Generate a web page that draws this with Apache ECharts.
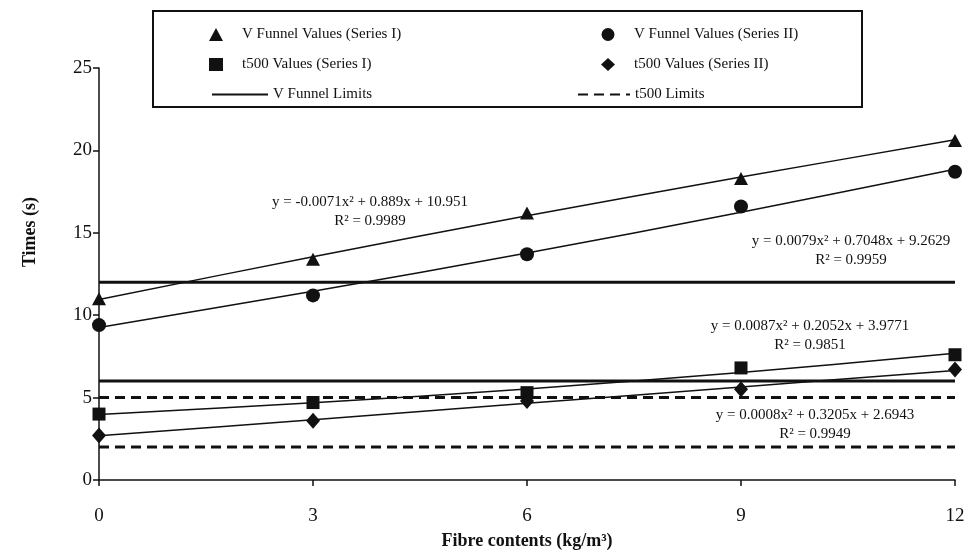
<!DOCTYPE html>
<html>
<head>
<meta charset="utf-8">
<script src="https://cdn.jsdelivr.net/npm/echarts@6/dist/echarts.min.js"></script>
<style>
  html, body { margin: 0; padding: 0; background: #fff; }
  #chart { width: 973px; height: 550px; }
</style>
</head>
<body>
<div id="chart"></div>
<script>
// fibre contents (kg/m3)
var fibre = [0, 3, 6, 9, 12];
// measured times (s)
var vfSeries1 = [11.0, 13.4, 16.2, 18.3, 20.6];
var vfSeries2 = [9.4, 11.2, 13.7, 16.6, 18.7];
var t5Series1 = [4.0, 4.7, 5.3, 6.8, 7.6];
var t5Series2 = [2.7, 3.6, 4.8, 5.5, 6.7];
// trend lines
var vfTrend1 = [10.95, 13.55, 16.03, 18.38, 20.64];
var vfTrend2 = [9.26, 11.45, 13.77, 16.25, 18.86];
var t5Trend1 = [3.98, 4.69, 5.52, 6.52, 7.69];
var t5Trend2 = [2.69, 3.66, 4.65, 5.64, 6.65];
// limits
var vfLimits = [12, 6];
var t5Limits = [5, 2];
// equations
var equations = [
  ["y = -0.0071x² + 0.889x + 10.951", "R² = 0.9989"],
  ["y = 0.0079x² + 0.7048x + 9.2629", "R² = 0.9959"],
  ["y = 0.0087x² + 0.2052x + 3.9771", "R² = 0.9851"],
  ["y = 0.0008x² + 0.3205x + 2.6943", "R² = 0.9949"]
];

var font = "Liberation Serif";
var ink = "#111";

function pairs(ys) {
  return fibre.map(function (x, i) { return [x, ys[i]]; });
}

var myChart = echarts.init(document.getElementById("chart"));

var series = [];
function scatter(name, ys, symbol, size) {
  series.push({
    name: name,
    type: "scatter",
    data: pairs(ys),
    symbol: symbol,
    symbolSize: size,
    itemStyle: { color: ink, opacity: 1 },
    z: 5
  });
}
function trend(ys) {
  series.push({
    name: "trend",
    type: "line",
    data: pairs(ys),
    smooth: 0.3,
    symbol: "none",
    color: ink,
    lineStyle: { color: ink, width: 1.5 },
    z: 3
  });
}
scatter("V Funnel Values (Series I)", vfSeries1, "triangle", [14, 13]);
scatter("V Funnel Values (Series II)", vfSeries2, "circle", 14);
scatter("t500 Values (Series I)", t5Series1, "rect", 13);
scatter("t500 Values (Series II)", t5Series2, "diamond", [14, 16]);
trend(vfTrend1);
trend(vfTrend2);
trend(t5Trend1);
trend(t5Trend2);

vfLimits.forEach(function (v) {
  series.push({
    name: "V Funnel Limits",
    type: "line",
    data: [[fibre[0], v], [fibre[fibre.length - 1], v]],
    symbol: "none",
    color: ink,
    lineStyle: { color: ink, width: 3 },
    z: 2
  });
});
t5Limits.forEach(function (v) {
  series.push({
    name: "t500 Limits",
    type: "line",
    data: [[fibre[0], v], [fibre[fibre.length - 1], v]],
    symbol: "none",
    color: ink,
    lineStyle: { color: ink, width: 3, type: [10, 6] },
    z: 2
  });
});

// equation labels
var eqPos = [[370, 193], [851, 232], [810, 317], [815, 406]];
var graphics = [
  {
    type: "rect",
    shape: { x: 153, y: 11, width: 709, height: 96 },
    style: { fill: "none", stroke: ink, lineWidth: 2 },
    silent: true
  },
  {
    type: "text",
    x: 30, y: 232, rotation: Math.PI / 2,
    style: {
      text: "Times (s)", font: "bold 18px " + font, fill: ink,
      textAlign: "center", textVerticalAlign: "middle"
    }
  }
];
equations.forEach(function (eq, i) {
  graphics.push({
    type: "text",
    x: eqPos[i][0], y: eqPos[i][1],
    style: {
      text: eq[0] + "\n" + eq[1], font: "15px " + font, fill: ink,
      textAlign: "center", textVerticalAlign: "top", lineHeight: 19
    },
    z: 10
  });
});

var markerText = { fontFamily: font, fontSize: 15, color: ink, padding: [0, 0, 0, 14] };
var lineText = { fontFamily: font, fontSize: 15, color: ink };

var option = {
  animation: false,
  textStyle: { fontFamily: font },
  grid: { left: 99, right: 18, top: 68, bottom: 70, containLabel: false, outerBoundsMode: "none" },
  legend: [
    {
      data: ["V Funnel Values (Series I)", "t500 Values (Series I)"],
      orient: "vertical", left: 204, top: 22,
      itemWidth: 14, itemHeight: 13, itemGap: 15,
      textStyle: markerText
    },
    {
      data: ["V Funnel Values (Series II)", "t500 Values (Series II)"],
      orient: "vertical", left: 596, top: 22,
      itemWidth: 14, itemHeight: 13, itemGap: 15,
      textStyle: markerText
    },
    {
      data: ["V Funnel Limits"],
      left: 206, top: 82, itemWidth: 56, itemHeight: 14,
      itemStyle: { opacity: 0 },
      textStyle: lineText
    },
    {
      data: ["t500 Limits"],
      left: 572, top: 82, itemWidth: 52, itemHeight: 14,
      itemStyle: { opacity: 0 },
      textStyle: lineText
    }
  ],
  xAxis: {
    type: "value",
    min: 0, max: 12, interval: 3,
    name: "Fibre contents (kg/m³)",
    nameLocation: "middle",
    nameGap: 52,
    nameTextStyle: { fontFamily: font, fontSize: 18, fontWeight: "bold", color: ink },
    axisLine: { lineStyle: { color: ink, width: 1.5 } },
    axisTick: { inside: false, length: 6, lineStyle: { color: ink, width: 1.5 } },
    axisLabel: { fontFamily: font, fontSize: 19, color: ink, margin: 27 },
    splitLine: { show: false }
  },
  yAxis: {
    type: "value",
    min: 0, max: 25, interval: 5,
    axisLine: { show: true, lineStyle: { color: ink, width: 1.5 } },
    axisTick: { show: true, length: 6, lineStyle: { color: ink, width: 1.5 } },
    axisLabel: { fontFamily: font, fontSize: 19, color: ink, margin: 7 },
    splitLine: { show: false }
  },
  graphic: graphics,
  series: series
};
myChart.setOption(option);
</script>
</body>
</html>
